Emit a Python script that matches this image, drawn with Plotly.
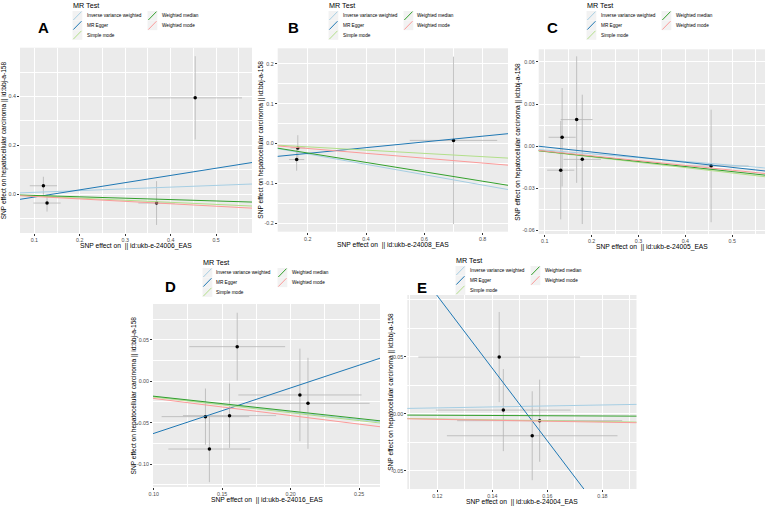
import plotly.graph_objects as go

W, H = 767, 507
FONT = "Liberation Sans, Arial, sans-serif"

METHODS = ["Inverse variance weighted", "MR Egger", "Simple mode",
           "Weighted median", "Weighted mode"]
COLORS = ["#a6cee3", "#1f78b4", "#b2df8a", "#33a02c", "#fb9a99"]
Y_TITLE = "SNP effect on hepatocellular carcinoma || id:bbj-a-158"

# ---- panel A : ukb-e-24006_EAS
A_bx = [0.120, 0.128, 0.369, 0.454]
A_by = [0.034, -0.037, -0.037, 0.395]
A_se_x = [0.030, 0.030, 0.040, 0.103]
A_se_y = [0.037, 0.035, 0.090, 0.171]
A_slope = [0.071, 0.296, -0.085, -0.057, -0.100]
A_icpt = [0, -0.042, 0, 0, 0]
A_xticks = [0.1, 0.2, 0.3, 0.4, 0.5]
A_xlabels = ["0.1", "0.2", "0.3", "0.4", "0.5"]
A_yticks = [0.0, 0.2, 0.4]
A_ylabels = ["0.0", "0.2", "0.4"]

# ---- panel B : ukb-e-24008_EAS
B_bx = [0.166, 0.162, 0.700]
B_by = [-0.011, -0.040, 0.008]
B_se_x = [0.025, 0.026, 0.150]
B_se_y = [0.032, 0.028, 0.210]
B_slope = [-0.130, 0.072, -0.041, -0.118, -0.061]
B_icpt = [0, -0.039, 0, 0, 0]
B_xticks = [0.2, 0.4, 0.6, 0.8]
B_xlabels = ["0.2", "0.4", "0.6", "0.8"]
B_yticks = [-0.2, -0.1, 0.0, 0.1, 0.2]
B_ylabels = ["-0.2", "-0.1", "0.0", "0.1", "0.2"]

# ---- panel C : ukb-e-24005_EAS
C_bx = [0.134, 0.137, 0.168, 0.180, 0.455]
C_by = [-0.017, 0.0064, 0.019, -0.0093, -0.014]
C_se_x = [0.029, 0.029, 0.034, 0.040, 0.080]
C_se_y = [0.035, 0.035, 0.045, 0.046, 0.040]
C_slope = [-0.027, -0.0364, -0.038, -0.036, -0.034]
C_icpt = [0, 0.0032, 0, 0, 0]
C_xticks = [0.1, 0.2, 0.3, 0.4, 0.5]
C_xlabels = ["0.1", "0.2", "0.3", "0.4", "0.5"]
C_yticks = [-0.06, -0.03, 0.0, 0.03, 0.06]
C_ylabels = ["-0.06", "-0.03", "0.00", "0.03", "0.06"]

# ---- panel D : ukb-e-24016_EAS
D_bx = [0.161, 0.1378, 0.1554, 0.1407, 0.2068, 0.2127]
D_by = [0.0419, -0.0427, -0.0415, -0.0819, -0.0165, -0.0266]
D_se_x = [0.035, 0.032, 0.034, 0.030, 0.045, 0.045]
D_se_y = [0.041, 0.034, 0.039, 0.040, 0.056, 0.055]
D_slope = [-0.185, 0.550, -0.190, -0.180, -0.207]
D_icpt = [0, -0.118, 0, 0, 0]
D_xticks = [0.10, 0.15, 0.20, 0.25]
D_xlabels = ["0.10", "0.15", "0.20", "0.25"]
D_yticks = [-0.10, -0.05, 0.0, 0.05]
D_ylabels = ["-0.10", "-0.05", "0.00", "0.05"]

# ---- panel E : ukb-e-24004_EAS
E_bx = [0.1425, 0.1440, 0.1545, 0.1572]
E_by = [0.0497, 0.0032, -0.0193, -0.0061]
E_se_x = [0.0294, 0.0245, 0.031, 0.030]
E_se_y = [0.0395, 0.036, 0.039, 0.036]
E_slope = [0.0426, -3.18, -0.038, -0.011, -0.041]
E_icpt = [0, 0.485, 0, 0, 0]
E_xticks = [0.12, 0.14, 0.16, 0.18]
E_xlabels = ["0.12", "0.14", "0.16", "0.18"]
E_yticks = [-0.05, 0.0, 0.05]
E_ylabels = ["-0.05", "0.00", "0.05"]


# layout of each panel, in pixels of the 767x507 page
panels = [
    dict(letter="A", exp="ukb-e-24006_EAS", bx=A_bx, by=A_by, sx=A_se_x, sy=A_se_y,
         slope=A_slope, icpt=A_icpt, xt=A_xticks, xl=A_xlabels, yt=A_yticks, yl=A_ylabels,
         box=(20, 47.7, 252, 233), xr=(0.0685, 0.579), yr=(-0.160, 0.601),
         xminor=0.05, yminor=0.1, lab=(43, 27), leg=(72, 5), ytoff=16),
    dict(letter="B", exp="ukb-e-24008_EAS", bx=B_bx, by=B_by, sx=B_se_x, sy=B_se_y,
         slope=B_slope, icpt=B_icpt, xt=B_xticks, xl=B_xlabels, yt=B_yticks, yl=B_ylabels,
         box=(277.7, 48.3, 508, 231.7), xr=(0.097, 0.887), yr=(-0.221, 0.239),
         xminor=0.1, yminor=0.05, lab=(293, 27), leg=(328, 5), ytoff=17),
    dict(letter="C", exp="ukb-e-24005_EAS", bx=C_bx, by=C_by, sx=C_se_x, sy=C_se_y,
         slope=C_slope, icpt=C_icpt, xt=C_xticks, xl=C_xlabels, yt=C_yticks, yl=C_ylabels,
         box=(538.7, 49.3, 765, 234), xr=(0.087, 0.570), yr=(-0.0624, 0.069),
         xminor=0.05, yminor=0.015, lab=(552, 27), leg=(586, 5), ytoff=21.5),
    dict(letter="D", exp="ukb-e-24016_EAS", bx=D_bx, by=D_by, sx=D_se_x, sy=D_se_y,
         slope=D_slope, icpt=D_icpt, xt=D_xticks, xl=D_xlabels, yt=D_yticks, yl=D_ylabels,
         box=(153, 304, 380, 487), xr=(0.0995, 0.2653), yr=(-0.1278, 0.0935),
         xminor=0.025, yminor=0.025, lab=(170, 286), leg=(202, 262), ytoff=20),
    dict(letter="E", exp="ukb-e-24004_EAS", bx=E_bx, by=E_by, sx=E_se_x, sy=E_se_y,
         slope=E_slope, icpt=E_icpt, xt=E_xticks, xl=E_xlabels, yt=E_yticks, yl=E_ylabels,
         box=(407.3, 295, 636.5, 489), xr=(0.1091, 0.1924), yr=(-0.066, 0.1041),
         xminor=0.01, yminor=0.025, lab=(422, 287), leg=(455, 260), ytoff=16.5),
]


def px(x, y):
    return x / W, 1 - y / H


def axis_style(rng, ticks, labels, minor, anchor, domain):
    return dict(
        domain=domain, range=list(rng), anchor=anchor, zeroline=False, showline=False,
        tickmode="array", tickvals=ticks, ticktext=labels,
        ticks="outside", ticklen=2, tickwidth=0.6, tickcolor="#333333",
        tickfont=dict(family=FONT, size=5.3, color="#4d4d4d"),
        showgrid=True, gridcolor="white", gridwidth=1,
        minor=dict(tickmode="linear", tick0=0, dtick=minor, showgrid=True,
                   gridcolor="white", gridwidth=0.5, ticks=""),
        fixedrange=True,
    )


def text(x, y, s, size, **kw):
    tx, ty = px(x, y)
    d = dict(x=tx, y=ty, xref="paper", yref="paper", text=s, showarrow=False,
             font=dict(family=FONT, size=size, color="black"),
             xanchor="center", yanchor="middle")
    d.update(kw)
    return d


fig = go.Figure()
shapes = []
annotations = []

for i, p in enumerate(panels, start=1):
    sfx = "" if i == 1 else str(i)
    xa, ya = "x" + sfx, "y" + sfx
    x0, y0, x1, y1 = p["box"]

    fig.add_trace(go.Scatter(
        x=p["bx"], y=p["by"], mode="markers",
        marker=dict(color="black", size=3.5),
        error_x=dict(type="data", array=p["sx"], color="#b5b5b5", thickness=0.8, width=0),
        error_y=dict(type="data", array=p["sy"], color="#b5b5b5", thickness=0.8, width=0),
        xaxis=xa, yaxis=ya, showlegend=False, hoverinfo="skip",
    ))

    span = p["xr"][1] - p["xr"][0]
    lx = [p["xr"][0] - span, p["xr"][1] + span]
    for m, c, b, a in zip(METHODS, COLORS, p["slope"], p["icpt"]):
        fig.add_trace(go.Scatter(
            x=lx, y=[a + b * v for v in lx], mode="lines",
            line=dict(color=c, width=1), name=m,
            xaxis=xa, yaxis=ya, showlegend=False, hoverinfo="skip",
        ))

    fig.update_layout(**{
        "xaxis" + sfx: axis_style(p["xr"], p["xt"], p["xl"], p["xminor"], ya, [x0 / W, x1 / W]),
        "yaxis" + sfx: axis_style(p["yr"], p["yt"], p["yl"], p["yminor"], xa, [1 - y1 / H, 1 - y0 / H]),
    })

    # axis titles
    annotations.append(text((x0 + x1) / 2, y1 + 13, "SNP effect on  || id:" + p["exp"], 6.7))
    annotations.append(text(x0 - p["ytoff"], (y0 + y1) / 2, Y_TITLE, 6.6, textangle=-90))

    # panel letter
    annotations.append(text(p["lab"][0], p["lab"][1], "<b>%s</b>" % p["letter"], 15))

    # legend "MR Test"
    gx, gy = p["leg"]
    annotations.append(text(gx - 1, gy, "MR Test", 7.2, xanchor="left"))
    for k, (m, c) in enumerate(zip(METHODS, COLORS)):
        col, row = (0, k) if k < 3 else (1, k - 3)
        kx = gx + 0.5 + 75 * col
        ky = gy + 10.8 + 9.6 * row
        ax0, ay0 = px(kx, ky - 4.8)
        ax1, ay1 = px(kx + 9.8, ky + 4.8)
        shapes.append(dict(type="rect", xref="paper", yref="paper", x0=ax0, x1=ax1, y0=ay0, y1=ay1,
                           fillcolor="#f2f2f2", line=dict(width=0), layer="above"))
        dx0, dy0 = px(kx + 0.8, ky + 4.2)
        dx1, dy1 = px(kx + 9.0, ky - 4.2)
        shapes.append(dict(type="line", xref="paper", yref="paper", x0=dx0, x1=dx1, y0=dy0, y1=dy1,
                           line=dict(color=c, width=1), layer="above"))
        annotations.append(text(kx + 12, ky, m, 4.7, xanchor="left"))

fig.update_layout(
    width=W, height=H,
    margin=dict(l=0, r=0, t=0, b=0),
    paper_bgcolor="white", plot_bgcolor="#ebebeb",
    template="none",
    showlegend=False,
    font=dict(family=FONT),
    shapes=shapes, annotations=annotations,
)

# drop the browser's default 8px body margin so the figure fills the window
fig.write_html("out.html", config={"displayModeBar": False},
               post_script="document.body.style.margin='0';")
